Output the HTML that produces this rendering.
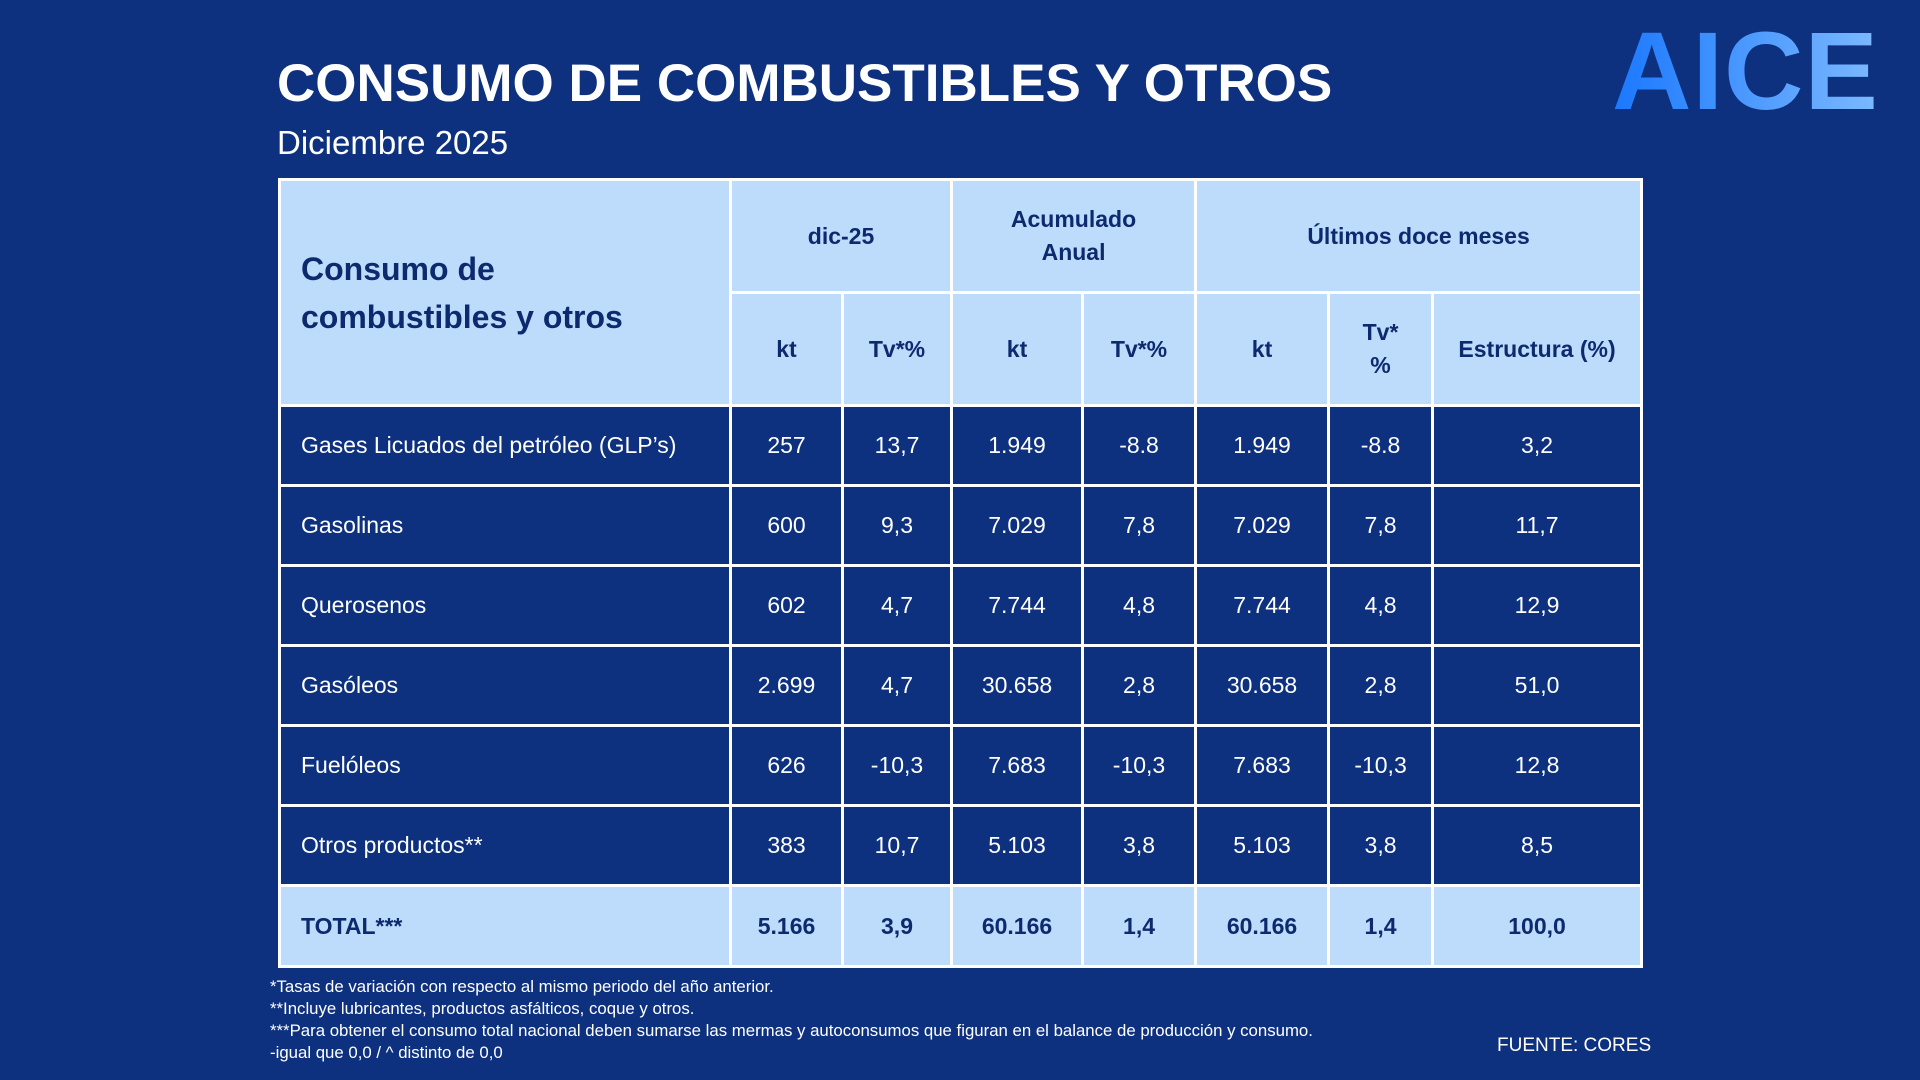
<!DOCTYPE html>
<html><head><meta charset="utf-8"><style>
html,body{margin:0;padding:0}
body{width:1920px;height:1080px;background:#0d317f;position:relative;overflow:hidden;font-family:"Liberation Sans",sans-serif;}
.t{position:absolute;color:#fff}
table{position:absolute;left:278px;top:178px;border-collapse:collapse;table-layout:fixed;width:1362px}
td{border:3px solid #fff;text-align:center;color:#fff;font-size:23px;padding:0}
.h td{background:#bddbfb;color:#0e2a6e;font-weight:bold;font-size:23px}
.h td.big{font-size:32px;text-align:left;padding-left:20px;line-height:48px}
td.l{text-align:left;padding-left:20px}
tr.tot td{background:#bddbfb;color:#0e2a6e;font-weight:bold}
.fn{position:absolute;left:270px;color:#fff;font-size:16.8px}
</style></head><body>
<div class="t" style="left:277px;top:53px;font-size:53px;font-weight:bold">CONSUMO DE COMBUSTIBLES Y OTROS</div>
<div class="t" style="left:277px;top:124px;font-size:33px">Diciembre 2025</div>
<div style="position:absolute;left:1612px;top:8px;font-size:110px;font-weight:bold;letter-spacing:1px;background:linear-gradient(90deg,#1a78ff,#7cb9ff);-webkit-background-clip:text;background-clip:text;color:transparent">AICE</div>
<table>
<colgroup><col style="width:451px"><col style="width:112px"><col style="width:109px"><col style="width:131px"><col style="width:113px"><col style="width:133px"><col style="width:104px"><col style="width:209px"></colgroup>
<tr class="h" style="height:113px"><td class="big" rowspan="2">Consumo de<br>combustibles y otros</td><td colspan="2">dic-25</td><td colspan="2" style="line-height:33px">Acumulado<br>Anual</td><td colspan="3">Últimos doce meses</td></tr>
<tr class="h" style="height:113px"><td>kt</td><td>Tv*%</td><td>kt</td><td>Tv*%</td><td>kt</td><td style="line-height:33px">Tv*<br>%</td><td>Estructura (%)</td></tr>
<tr style="height:80px"><td class="l">Gases Licuados del petróleo (GLP’s)</td><td>257</td><td>13,7</td><td>1.949</td><td>-8.8</td><td>1.949</td><td>-8.8</td><td>3,2</td></tr>
<tr style="height:80px"><td class="l">Gasolinas</td><td>600</td><td>9,3</td><td>7.029</td><td>7,8</td><td>7.029</td><td>7,8</td><td>11,7</td></tr>
<tr style="height:80px"><td class="l">Querosenos</td><td>602</td><td>4,7</td><td>7.744</td><td>4,8</td><td>7.744</td><td>4,8</td><td>12,9</td></tr>
<tr style="height:80px"><td class="l">Gasóleos</td><td>2.699</td><td>4,7</td><td>30.658</td><td>2,8</td><td>30.658</td><td>2,8</td><td>51,0</td></tr>
<tr style="height:80px"><td class="l">Fuelóleos</td><td>626</td><td>-10,3</td><td>7.683</td><td>-10,3</td><td>7.683</td><td>-10,3</td><td>12,8</td></tr>
<tr style="height:80px"><td class="l">Otros productos**</td><td>383</td><td>10,7</td><td>5.103</td><td>3,8</td><td>5.103</td><td>3,8</td><td>8,5</td></tr>
<tr class="tot" style="height:81px"><td class="l">TOTAL***</td><td>5.166</td><td>3,9</td><td>60.166</td><td>1,4</td><td>60.166</td><td>1,4</td><td>100,0</td></tr>
</table>
<div class="fn" style="top:977px">*Tasas de variación con respecto al mismo periodo del año anterior.</div>
<div class="fn" style="top:999px">**Incluye lubricantes, productos asfálticos, coque y otros.</div>
<div class="fn" style="top:1021px">***Para obtener el consumo total nacional deben sumarse las mermas y autoconsumos que figuran en el balance de producción y consumo.</div>
<div class="fn" style="top:1043px">-igual que 0,0 / ^ distinto de 0,0</div>
<div class="t" style="left:1497px;top:1035px;font-size:19px">FUENTE: CORES</div>
</body></html>
